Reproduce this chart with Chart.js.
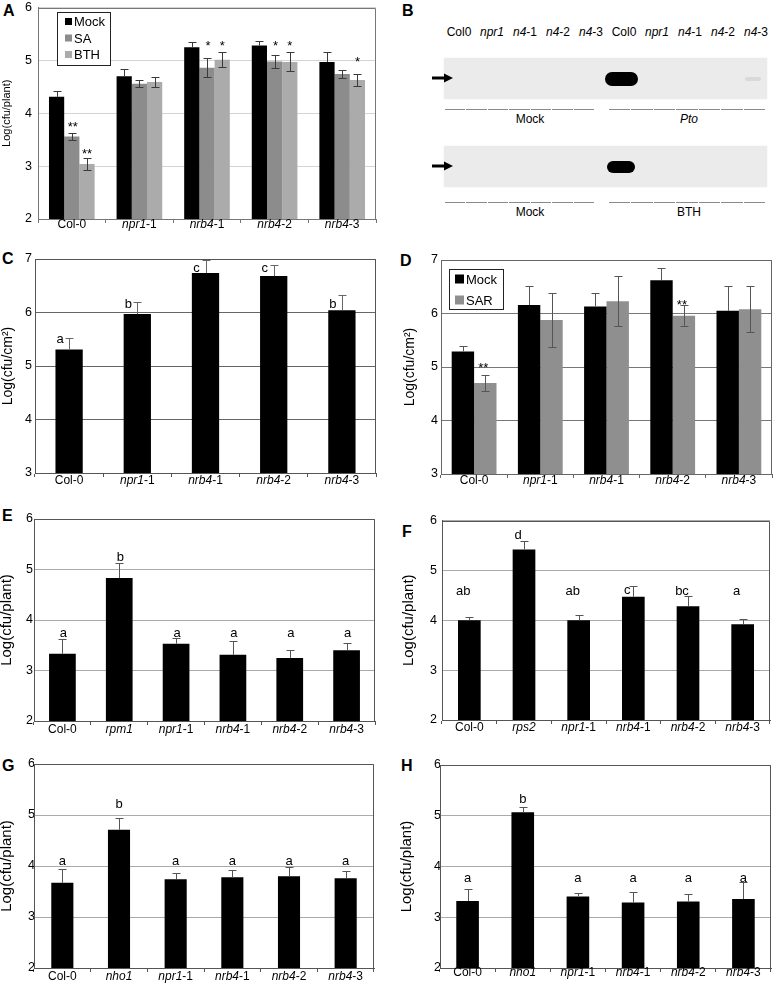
<!DOCTYPE html>
<html>
<head>
<meta charset="utf-8">
<script src="https://cdn.jsdelivr.net/npm/chart.js@4.4.0/dist/chart.umd.min.js"></script>
<style>
body{margin:0;width:774px;height:984px;position:relative;background:#fff;overflow:hidden;
  font-family:"Liberation Sans",Arial,Helvetica,sans-serif;color:#000}
canvas{position:absolute}
.pl{position:absolute;font-weight:bold;font-size:16px;line-height:16px}
.t{position:absolute;font-size:12px;line-height:14px;white-space:nowrap;transform:translate(-50%,-50%)}
.gel{position:absolute;background:#ebebeb;box-shadow:0 0 2px #eee}
.band{position:absolute;background:#000;filter:blur(0.6px)}
.seg{position:absolute;height:1px;background:#8a8a8a}
</style>
</head>
<body>
<div class="pl" style="left:3px;top:3px">A</div>
<div class="pl" style="left:402px;top:3px">B</div>
<div class="pl" style="left:2px;top:251px">C</div>
<div class="pl" style="left:400px;top:253px">D</div>
<div class="pl" style="left:2px;top:508px">E</div>
<div class="pl" style="left:402px;top:524px">F</div>
<div class="pl" style="left:2px;top:758px">G</div>
<div class="pl" style="left:401px;top:758px">H</div>

<div id="gelB"></div>

<canvas id="cA"></canvas>
<canvas id="cC"></canvas>
<canvas id="cD"></canvas>
<canvas id="cE"></canvas>
<canvas id="cF"></canvas>
<canvas id="cG"></canvas>
<canvas id="cH"></canvas>

<script>
// ---- data ----
const catsA = ['Col-0', 'npr1-1', 'nrb4-1', 'nrb4-2', 'nrb4-3'];
const mockA = [4.31, 4.70, 5.25, 5.28, 4.97];
const mockAErr = [0.12, 0.14, 0.10, 0.09, 0.18];
const saA = [3.56, 4.56, 4.86, 4.98, 4.74];
const saAErr = [0.07, 0.07, 0.18, 0.12, 0.07];
const bthA = [3.04, 4.59, 5.01, 4.97, 4.63];
const bthAErr = [0.12, 0.09, 0.14, 0.18, 0.12];
const starsSA = ['**', '', '*', '*', ''];
const starYSA = [3.80, null, 5.33, 5.33, null];
const starsBTH = ['**', '', '*', '*', '*'];
const starYBTH = [3.29, null, 5.33, 5.33, 5.04];

const laneLabels = ['Col0', 'npr1', 'n4-1', 'n4-2', 'n4-3', 'Col0', 'npr1', 'n4-1', 'n4-2', 'n4-3'];
const bandPto = [0, 0, 0, 0, 0, 1, 0, 0, 0, 0.07];
const bandBTH = [0, 0, 0, 0, 0, 0.85, 0, 0, 0, 0];

const valC = [5.31, 5.97, 6.74, 6.68, 6.04];
const errC = [0.21, 0.22, 0.25, 0.21, 0.29];
const lettersC = ['a', 'b', 'c', 'c', 'b'];
const letterYC = [5.49, 6.18, 6.83, 6.83, 6.18];

const mockD = [5.29, 6.16, 6.13, 6.62, 6.05];
const mockDErr = [0.11, 0.36, 0.26, 0.23, 0.46];
const sarD = [4.70, 5.88, 6.23, 5.96, 6.08];
const sarDErr = [0.15, 0.50, 0.47, 0.20, 0.43];
const starsSAR = ['**', '', '', '**', ''];
const starYSAR = [5.04, null, null, 6.22, null];

const catsE = ['Col-0', 'rpm1', 'npr1-1', 'nrb4-1', 'nrb4-2', 'nrb4-3'];
const valE = [3.33, 4.83, 3.53, 3.31, 3.25, 3.40];
const errE = [0.29, 0.30, 0.12, 0.27, 0.15, 0.14];
const lettersE = ['a', 'b', 'a', 'a', 'a', 'a'];
const letterYE = [3.74, 5.26, 3.74, 3.74, 3.74, 3.74];

const catsF = ['Col-0', 'rps2', 'npr1-1', 'nrb4-1', 'nrb4-2', 'nrb4-3'];
const valF = [4.00, 5.42, 4.00, 4.47, 4.28, 3.92];
const errF = [0.07, 0.17, 0.11, 0.22, 0.21, 0.11];
const lettersF = ['ab', 'd', 'ab', 'c', 'bc', 'a'];
const letterYF = [4.60, 5.73, 4.60, 4.60, 4.60, 4.57];

const catsGH = ['Col-0', 'nho1', 'npr1-1', 'nrb4-1', 'nrb4-2', 'nrb4-3'];
const valG = [3.67, 4.71, 3.74, 3.78, 3.80, 3.76];
const errG = [0.28, 0.24, 0.12, 0.15, 0.19, 0.14];
const lettersG = ['a', 'b', 'a', 'a', 'a', 'a'];
const letterYG = [4.08, 5.23, 4.08, 4.08, 4.08, 4.08];

const valH = [3.32, 5.07, 3.41, 3.29, 3.31, 3.36];
const errH = [0.23, 0.10, 0.07, 0.20, 0.15, 0.33];
const lettersH = ['a', 'b', 'a', 'a', 'a', 'a'];
const letterYH = [3.77, 5.34, 3.77, 3.77, 3.77, 3.77];

const FONT = '"Liberation Sans", Arial, Helvetica, sans-serif';

// italic gene name, plain allele suffix
function splitLabel(s) {
  if (s.startsWith('Col')) return [[s, false]];
  const k = s.lastIndexOf('-');
  if (k < 0) return [[s, true]];
  return [[s.slice(0, k), true], [s.slice(k), false]];
}

// ---- plugins ----
const frame = {
  id: 'frame',
  afterDraw(chart, args, o) {
    const a = chart.chartArea, ctx = chart.ctx;
    ctx.save();
    ctx.strokeStyle = o.color || '#555';
    ctx.lineWidth = 1;
    ctx.beginPath();
    ctx.moveTo(Math.round(a.left) + 0.5, Math.round(a.top) + 0.5);
    ctx.lineTo(Math.round(a.right) - 0.5, Math.round(a.top) + 0.5);
    ctx.lineTo(Math.round(a.right) - 0.5, Math.round(a.bottom) + 0.5);
    ctx.stroke();
    ctx.restore();
  }
};

const errorBars = {
  id: 'errorBars',
  afterDatasetsDraw(chart, args, o) {
    const ctx = chart.ctx, ys = chart.scales.y;
    chart.data.datasets.forEach((ds, di) => {
      if (!ds.err) return;
      const meta = chart.getDatasetMeta(di);
      ctx.save();
      ctx.strokeStyle = o.color || '#555';
      ctx.lineWidth = 1;
      meta.data.forEach((bar, i) => {
        const v = ds.data[i], e = ds.err[i];
        const x = Math.round(bar.x) + 0.5;
        const top = Math.round(ys.getPixelForValue(v + e)) + 0.5;
        const bot = ds.errDown ? Math.round(ys.getPixelForValue(v - e)) + 0.5 : bar.y;
        const c = o.cap || 4;
        ctx.beginPath();
        ctx.moveTo(x, top); ctx.lineTo(x, bot);
        ctx.moveTo(x - c, top); ctx.lineTo(x + c, top);
        if (ds.errDown) { ctx.moveTo(x - c, bot); ctx.lineTo(x + c, bot); }
        ctx.stroke();
      });
      ctx.restore();
    });
  }
};

const notes = {
  id: 'notes',
  afterDatasetsDraw(chart, args, o) {
    const ctx = chart.ctx, ys = chart.scales.y;
    (o.list || []).forEach(n => {
      const meta = chart.getDatasetMeta(n.ds);
      ctx.save();
      ctx.fillStyle = '#000';
      ctx.font = (n.size || 13) + 'px ' + FONT;
      ctx.textAlign = 'center';
      ctx.textBaseline = 'alphabetic';
      n.text.forEach((t, i) => {
        if (!t || n.y[i] == null) return;
        const lift = t.includes('*') ? 0.57 : (/[bd]/.test(t) ? 0.36 : 0.27);
        const x = meta.data[i].x + (n.dx || 0);
        const y = ys.getPixelForValue(n.y[i]) + lift * (n.size || 13);
        ctx.fillText(t, x, y);
      });
      ctx.restore();
    });
  }
};

const catLabels = {
  id: 'catLabels',
  afterDraw(chart, args, o) {
    const ctx = chart.ctx, xs = chart.scales.x, a = chart.chartArea;
    const size = o.size || 12;
    ctx.save();
    ctx.fillStyle = '#000';
    ctx.textBaseline = 'middle';
    ctx.textAlign = 'left';
    chart.data.labels.forEach((lab, i) => {
      const parts = splitLabel(lab);
      let w = 0;
      parts.forEach(p => {
        ctx.font = (p[1] ? 'italic ' : '') + size + 'px ' + FONT;
        p.w = ctx.measureText(p[0]).width;
        w += p.w;
      });
      let x = xs.getPixelForValue(i) - w / 2;
      parts.forEach(p => {
        ctx.font = (p[1] ? 'italic ' : '') + size + 'px ' + FONT;
        ctx.fillText(p[0], x, a.bottom + o.dy);
        x += p.w;
      });
    });
    ctx.restore();
  }
};

const boxLegend = {
  id: 'boxLegend',
  afterDraw(chart, args, o) {
    if (!o.show) return;
    const ctx = chart.ctx, a = chart.chartArea;
    const bx = a.left + o.x, by = a.top + o.y;
    ctx.save();
    ctx.fillStyle = '#fff';
    ctx.fillRect(bx, by, o.w, o.h);
    ctx.strokeStyle = '#222';
    ctx.lineWidth = 1;
    ctx.strokeRect(Math.round(bx) + 0.5, Math.round(by) + 0.5, o.w, o.h);
    ctx.font = '13px ' + FONT;
    ctx.textBaseline = 'middle';
    ctx.textAlign = 'left';
    chart.data.datasets.forEach((ds, i) => {
      const cy = by + o.first + i * o.row;
      ctx.fillStyle = ds.backgroundColor;
      ctx.fillRect(bx + o.sx, cy - o.sw / 2, o.sw, o.sw);
      ctx.fillStyle = '#000';
      ctx.fillText(ds.label, bx + o.tx, cy + 1);
    });
    ctx.restore();
  }
};

// ---- chart builder ----
function panel(id, box, cfg) {
  const cv = document.getElementById(id);
  cv.width = box.w; cv.height = box.h;
  cv.style.left = box.x + 'px'; cv.style.top = box.y + 'px';
  return new Chart(cv, {
    type: 'bar',
    data: {
      labels: cfg.cats,
      datasets: cfg.sets.map(s => ({
        label: s.label, data: s.data, err: s.err, errDown: s.errDown,
        backgroundColor: s.color, borderWidth: 0,
        categoryPercentage: cfg.catPct, barPercentage: 1
      }))
    },
    options: {
      responsive: false, animation: false, devicePixelRatio: 1,
      layout: { padding: { top: 12, right: box.pr, left: 0, bottom: 0 } },
      plugins: {
        legend: { display: false },
        tooltip: { enabled: false },
        frame: { color: cfg.frame },
        errorBars: { color: cfg.errColor, cap: cfg.cap },
        notes: { list: cfg.notes },
        catLabels: { dy: cfg.labDy, size: 12 },
        boxLegend: cfg.legend || { show: false }
      },
      scales: {
        x: {
          grid: { drawOnChartArea: false, offset: true, tickLength: 4, color: cfg.frame },
          border: { color: cfg.frame },
          ticks: { display: false },
          afterFit: s => { s.height = box.h - 12 - (box.b - box.t); }
        },
        y: {
          min: cfg.min, max: cfg.max,
          ticks: { stepSize: 1, padding: cfg.yPad, color: '#000', font: { family: FONT, size: 12.5 } },
          grid: { color: cfg.grid, drawTicks: false },
          border: { color: cfg.frame },
          title: { display: true, text: cfg.title, color: '#000', padding: 0, font: { family: FONT, size: cfg.titleSize } },
          afterFit: s => { s.width = box.l - box.x; }
        }
      }
    },
    plugins: [errorBars, notes, frame, catLabels, boxLegend]
  });
}

// chart area l/r/t/b, canvas x/y and right padding
function geom(x, l, r, t, b, bottomEdge, pr) {
  return { x: x, y: t - 12, w: r + pr - x, h: bottomEdge - (t - 12), l: l, t: t, b: b, pr: pr };
}

// A
panel('cA', geom(0, 38, 376, 6, 219, 241, 3), {
  cats: catsA, min: 2, max: 6, title: 'Log(cfu/plant)', titleSize: 11,
  catPct: 0.675, grid: '#d4d4d4', frame: '#777', errColor: '#3a3a3a', cap: 4,
  yPad: 6, labDy: 6,
  sets: [
    { label: 'Mock', data: mockA, err: mockAErr, color: '#000', errDown: false },
    { label: 'SA', data: saA, err: saAErr, color: '#8c8c8c', errDown: true },
    { label: 'BTH', data: bthA, err: bthAErr, color: '#ababab', errDown: true }
  ],
  notes: [
    { ds: 1, text: starsSA, y: starYSA, dx: 1, size: 13 },
    { ds: 2, text: starsBTH, y: starYBTH, dx: 0, size: 13 }
  ],
  legend: { show: true, x: 19, y: 4, w: 53, h: 53, first: 10, row: 16.5, sx: 8, sw: 7, tx: 17 }
});

// C
panel('cC', geom(0, 35, 376, 259, 473, 495, 3), {
  cats: catsA, min: 3, max: 7, title: 'Log(cfu/cm\u00B2)', titleSize: 14,
  catPct: 0.4, grid: '#666', frame: '#555', errColor: '#666', cap: 4,
  yPad: 3, labDy: 8,
  sets: [{ label: 'C', data: valC, err: errC, color: '#000', errDown: false }],
  notes: [{ ds: 0, text: lettersC, y: letterYC, dx: -9, size: 13 }]
});

// D
panel('cD', geom(402, 441, 772, 260, 474, 496, 2), {
  cats: catsA, min: 3, max: 7, title: 'Log(cfu/cm\u00B2)', titleSize: 14,
  catPct: 0.677, grid: '#777', frame: '#666', errColor: '#555', cap: 4,
  yPad: 3, labDy: 7,
  sets: [
    { label: 'Mock', data: mockD, err: mockDErr, color: '#000', errDown: false },
    { label: 'SAR', data: sarD, err: sarDErr, color: '#8f8f8f', errDown: true }
  ],
  notes: [{ ds: 1, text: starsSAR, y: starYSAR, dx: -2, size: 13 }],
  legend: { show: true, x: 8, y: 9, w: 54, h: 40, first: 10, row: 21, sx: 6, sw: 9, tx: 17 }
});

// E
panel('cE', geom(-2, 34, 375, 519, 721, 743, 3), {
  cats: catsE, min: 2, max: 6, title: 'Log(cfu/plant)', titleSize: 15,
  catPct: 0.47, grid: '#aaa', frame: '#555', errColor: '#555', cap: 4,
  yPad: 1, labDy: 9,
  sets: [{ label: 'E', data: valE, err: errE, color: '#000', errDown: false }],
  notes: [{ ds: 0, text: lettersE, y: letterYE, dx: 1, size: 13 }]
});

// F
panel('cF', geom(400, 442, 770, 520, 720, 742, 3), {
  cats: catsF, min: 2, max: 6, title: 'Log(cfu/plant)', titleSize: 15,
  catPct: 0.415, grid: '#aaa', frame: '#555', errColor: '#555', cap: 4,
  yPad: 5, labDy: 8,
  sets: [{ label: 'F', data: valF, err: errF, color: '#000', errDown: false }],
  notes: [{ ds: 0, text: lettersF, y: letterYF, dx: -6, size: 13 }]
});

// G
panel('cG', geom(-2, 34, 374, 764, 968, 984, 3), {
  cats: catsGH, min: 2, max: 6, title: 'Log(cfu/plant)', titleSize: 15,
  catPct: 0.39, grid: '#aaa', frame: '#555', errColor: '#555', cap: 4,
  yPad: -1, labDy: 9,
  sets: [{ label: 'G', data: valG, err: errG, color: '#000', errDown: false }],
  notes: [{ ds: 0, text: lettersG, y: letterYG, dx: 0, size: 13 }]
});

// H
panel('cH', geom(398, 440, 771, 765, 968, 984, 3), {
  cats: catsGH, min: 2, max: 6, title: 'Log(cfu/plant)', titleSize: 15,
  catPct: 0.41, grid: '#aaa', frame: '#555', errColor: '#555', cap: 4,
  yPad: -1, labDy: 5,
  sets: [{ label: 'H', data: valH, err: errH, color: '#000', errDown: false }],
  notes: [{ ds: 0, text: lettersH, y: letterYH, dx: 0, size: 13 }]
});

// ---- B: gel panel ----
(function () {
  const root = document.getElementById('gelB');
  const laneX = i => 459 + i * 33;
  function add(cls, css, html) {
    const d = document.createElement('div');
    d.className = cls;
    Object.assign(d.style, css);
    if (html != null) d.innerHTML = html;
    root.appendChild(d);
    return d;
  }
  laneLabels.forEach((lab, i) => {
    const parts = splitLabel(lab);
    const html = lab === 'Col0' ? 'Col0' : parts.map(p => p[1] ? '<i>' + p[0] + '</i>' : p[0]).join('');
    add('t', { left: laneX(i) + 'px', top: '32px' }, html);
  });
  function gel(top, bands, bw, bh) {
    add('gel', { left: '444px', top: top + 'px', width: '323px', height: '41px' });
    bands.forEach((v, i) => {
      if (!v) return;
      const w = v > 0.5 ? bw : 16, h = v > 0.5 ? bh : 4;
      add('band', {
        left: (laneX(i) - 3 - w / 2) + 'px', top: (top + 21 - h / 2) + 'px',
        width: w + 'px', height: h + 'px', opacity: v > 0.5 ? 1 : v,
        borderRadius: (h / 2) + 'px / ' + (h / 2) + 'px'
      });
    });
    // arrow
    add('', { position: 'absolute', left: '431px', top: (top + 19) + 'px', width: '0', height: '0' },
      '<svg width="24" height="6" style="position:absolute;left:0;top:-1px;overflow:visible">' +
      '<line x1="1" y1="2" x2="15" y2="2" stroke="#000" stroke-width="3"/>' +
      '<polygon points="13,-2.5 22,2 13,6.5" fill="#000"/></svg>');
  }
  function rule(y, x0, x1, n) {
    const step = (x1 - x0) / n;
    for (let k = 0; k < n; k++) {
      add('seg', { left: (x0 + k * step) + 'px', top: y + 'px', width: (step - 1) + 'px' });
    }
  }
  gel(58, bandPto, 33, 14);
  rule(109, 445, 595, 7);
  rule(109, 609, 766, 7);
  add('t', { left: '530px', top: '119px' }, 'Mock');
  add('t', { left: '689px', top: '119px' }, '<i>Pto</i>');
  gel(146, bandBTH, 28, 12);
  rule(202, 445, 595, 7);
  rule(202, 609, 766, 7);
  add('t', { left: '530px', top: '212px' }, 'Mock');
  add('t', { left: '689px', top: '212px' }, 'BTH');
})();
</script>
</body>
</html>
